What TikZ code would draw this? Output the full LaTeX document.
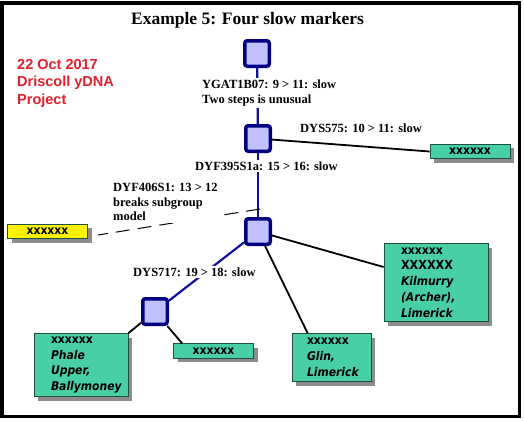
\documentclass[tikz,border=0pt]{standalone}
\usepackage{fontspec}
\setmainfont{Liberation Serif}
\newfontfamily\notefont{Liberation Sans}
\newfontfamily\boxfont[FakeStretch=0.9]{DejaVu Sans}
\usepackage{xcolor}
\definecolor{SNPfill}{HTML}{C0C0FF}
\definecolor{SNPedge}{HTML}{000080}
\definecolor{HAPcolor}{HTML}{48CFA6}
\definecolor{HAPedge}{HTML}{1F4F3F}
\definecolor{NOTEcolor}{HTML}{E41E2B}
\definecolor{SHADOWcolor}{HTML}{8C8C8C}
\definecolor{LINKblue}{HTML}{10109A}
\usepackage{tikz}
\usetikzlibrary{shadows, calc}
\newcommand\smallx{\upshape\fontsize{12}{13}\selectfont}
\hfuzz=25pt
\hyphenpenalty=10000

\begin{document}
\begin{tikzpicture}[x=1pt, y=-1pt]
    \tikzset{%
        snp/.style={draw=SNPedge, fill=SNPfill, line width=3.5pt, rounded corners=2.5pt,
                minimum width=24.5pt, minimum height=25.5pt, inner sep=0pt},
        hap/.style={draw=HAPedge, fill=HAPcolor, line width=0.8pt, inner ysep=2pt,
                minimum width=80pt, minimum height=14.5pt,
                drop shadow={shadow xshift=4pt, shadow yshift=-4pt, fill=SHADOWcolor, opacity=1},
                font=\boxfont\bfseries\smallx},
        haptext/.style={hap, align=left, inner xsep=17pt, minimum width=0pt,
                font=\boxfont\bfseries\itshape\fontsize{12}{15.8}\selectfont},
        mut/.style={fill=white, inner sep=2pt, anchor=west, align=left,
                font=\bfseries\fontsize{12.5}{14.5}\selectfont},
        link/.style={line width=1.8pt},
        uplink/.style={draw=LINKblue, line width=2.2pt},
    }
    \useasboundingbox (0, 0) rectangle (524, 421);
    % frame
    \draw [line width=3.5pt] (1.75, 2.75) rectangle (519.25, 416.25);

    \node [font=\bfseries\fontsize{17.5}{20}\selectfont] (title) at (247.5, 20) {Example 5: Four slow markers};
    \node [anchor=west, align=left, inner sep=0pt, text=NOTEcolor,
        font=\notefont\bfseries\fontsize{14.5}{17.5}\selectfont] (note) at (17, 83) {22 Oct 2017\\Driscoll yDNA\\Project};

    % SNP squares
    \node [snp] (s1) at (257, 53.5) {};
    \node [snp] (s2) at (258, 138.5) {};
    \node [snp] (s3) at (258, 231.5) {};
    \node [snp] (s4) at (155, 311.5) {};

    % haplotypes
    \node [hap] (h575) at (470, 151.5) {xxxxxx};
    \node [hap, fill=yellow] (hyel) at (47.5, 231.5) {xxxxxx};
    \node [hap] (hsmall) at (213.5, 351) {xxxxxx};
    \node [haptext, text width=70pt, minimum height=78pt] (hkil) at (436, 282.5)
        {{\smallx xxxxxx}\\{\upshape\fontsize{12.5}{15}\selectfont XXXXXX}\\Kilmurry\\(Archer),\\Limerick};
    \node [haptext, inner xsep=15pt, text width=49pt, minimum height=48pt] (hglin) at (331.5, 357.5)
        {{\smallx xxxxxx}\\Glin,\\Limerick};
    \node [haptext, text width=60pt, minimum height=63pt] (hphale) at (81, 365)
        {{\smallx xxxxxx}\\Phale\\Upper,\\Ballymoney};

    % links
    \draw [uplink] (s1) -- (s2);
    \draw [uplink] (s2) -- (s3);
    \draw [uplink] (s3) -- (s4);
    \draw [link] (s2) -- (h575.west);
    \draw [link] (s3) -- ($(hkil.west)+(0, -15.5)$);
    \draw [link] (s3) -- ($(hglin.north west)+(16, 0)$);
    \draw [link] (s4) -- (hphale.north east);
    \draw [link] (s4) -- ($(hsmall.north west)+(9, 0)$);
    \coordinate (d1) at (260, 209);
    \coordinate (d2) at (98, 235);
    \draw [line width=1pt, dash pattern=on 14pt off 8pt] (d1) -- (d2);

    % mutations
    \node [mut] (m1) at (200, 93) {YGAT1B07: 9 > 11: slow\\Two steps is unusual};
    \node [mut, fill=none] (m2) at (298, 128) {DYS575: 10 > 11: slow};
    \node [mut] (m3) at (193, 166) {DYF395S1a: 15 > 16: slow};
    \node [mut] (m4) at (111, 202) {DYF406S1: 13 > 12\\breaks subgroup\\model};
    \node [mut] (m5) at (131, 272) {DYS717: 19 > 18: slow};
\end{tikzpicture}
\end{document}
